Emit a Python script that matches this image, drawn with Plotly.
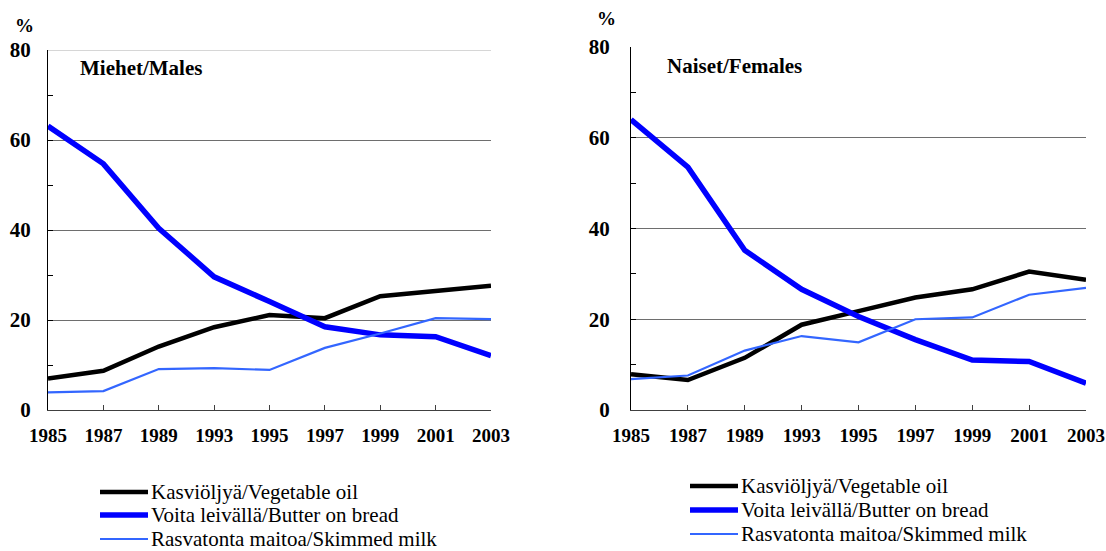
import plotly.graph_objects as go
from plotly.subplots import make_subplots

YEARS = ["1985", "1987", "1989", "1993", "1995", "1997", "1999", "2001", "2003"]

# Miehet / Males
MALE_OIL = [7.0, 8.7, 14.1, 18.4, 21.1, 20.4, 25.3, 26.5, 27.6]
MALE_BUTTER = [63.1, 54.7, 40.4, 29.6, 24.1, 18.5, 16.7, 16.3, 12.1]
MALE_MILK = [3.9, 4.2, 9.1, 9.3, 8.9, 13.8, 17.0, 20.4, 20.2]

# Naiset / Females
FEMALE_OIL = [7.9, 6.6, 11.5, 18.8, 21.8, 24.8, 26.6, 30.5, 28.7]
FEMALE_BUTTER = [64.0, 53.5, 35.2, 26.6, 20.6, 15.5, 11.0, 10.7, 5.9]
FEMALE_MILK = [6.8, 7.6, 13.1, 16.3, 14.9, 20.0, 20.4, 25.4, 26.9]

SERIES_NAMES = [
    "Kasviöljyä/Vegetable oil",
    "Voita leivällä/Butter on bread",
    "Rasvatonta maitoa/Skimmed milk",
]

COLORS = ["#000000", "#0000FF", "#3366FF"]
WIDTHS = [4.5, 5.5, 2.2]
FONT = "Liberation Serif, Times New Roman, serif"
W, H = 1106, 551


def px_x(x):
    return x / W


def px_y(y):
    return 1 - y / H


fig = make_subplots(rows=1, cols=2)

panels = [
    (1, [MALE_OIL, MALE_BUTTER, MALE_MILK]),
    (2, [FEMALE_OIL, FEMALE_BUTTER, FEMALE_MILK]),
]
for col, series in panels:
    for name, values, color, width in zip(SERIES_NAMES, series, COLORS, WIDTHS):
        fig.add_trace(
            go.Scatter(
                x=YEARS,
                y=values,
                mode="lines",
                name=name,
                line={"color": color, "width": width},
                showlegend=False,
            ),
            row=1,
            col=col,
        )

# panel geometry in pixels: (left, right, top, bottom)
geom = {1: (48, 491, 50, 410), 2: (631, 1086, 47, 410)}
for col, (left, right, top, bottom) in geom.items():
    fig.update_xaxes(
        type="category",
        range=[0, len(YEARS) - 1],
        domain=[px_x(left), px_x(right)],
        automargin=False,
        showgrid=False,
        showline=True,
        linecolor="#404040",
        linewidth=1.2,
        ticks="inside",
        ticklen=5,
        tickcolor="#404040",
        tickfont={"family": FONT, "size": 19, "color": "#000", "weight": "bold"},
        ticklabelstandoff=8,
        row=1,
        col=col,
    )
    fig.update_yaxes(
        range=[0, 80],
        domain=[px_y(bottom), px_y(top)],
        automargin=False,
        tickvals=[0, 20, 40, 60, 80],
        showgrid=True,
        gridcolor="#6e6e6e",
        gridwidth=1,
        zeroline=False,
        showline=True,
        linecolor="#000000",
        linewidth=1.2,
        ticks="inside",
        ticklen=5,
        tickcolor="#000",
        minor={"tickvals": [10, 30, 50, 70], "ticks": "inside", "ticklen": 5, "tickcolor": "#000"},
        tickfont={"family": FONT, "size": 21, "color": "#000", "weight": "bold"},
        ticklabelstandoff=12 if col == 1 else 16,
        row=1,
        col=col,
    )

shapes = [
    # top border line: light on the left panel, none on the right
    dict(type="line", xref="x domain", yref="y", x0=0, x1=1, y0=80, y1=80,
         line={"color": "#c8c8c8", "width": 1.5}, layer="above"),
    dict(type="line", xref="x2 domain", yref="y2", x0=0.003, x1=1, y0=80, y1=80,
         line={"color": "#ffffff", "width": 2}, layer="above"),
]
annotations = []


def label(text, x, y, size, bold=False):
    annotations.append(dict(
        text=f"<b>{text}</b>" if bold else text,
        x=px_x(x), y=px_y(y), xref="paper", yref="paper",
        xanchor="left", yanchor="middle", showarrow=False,
        font={"family": FONT, "size": size, "color": "#000"},
    ))


# panel titles and % labels
label("Miehet/Males", 78, 68, 21, bold=True)
label("Naiset/Females", 665, 66, 21, bold=True)
label("%", 13, 25, 19, bold=True)
label("%", 595, 19, 19, bold=True)

# legends drawn under each panel
legend_pos = [(100, [492, 515, 539]), (690, [486, 510, 534])]
for x0, rows in legend_pos:
    for name, color, width, y in zip(SERIES_NAMES, COLORS, WIDTHS, rows):
        shapes.append(dict(type="line", xref="paper", yref="paper",
                           x0=px_x(x0), x1=px_x(x0 + 48), y0=px_y(y), y1=px_y(y),
                           line={"color": color, "width": width}))
        label(name, x0 + 49, y, 21)

fig.update_layout(
    width=W,
    height=H,
    margin={"l": 0, "r": 0, "t": 0, "b": 0},
    paper_bgcolor="white",
    plot_bgcolor="white",
    font={"family": FONT, "size": 20, "color": "#000"},
    shapes=shapes,
    annotations=annotations,
    showlegend=False,
)

# drop the page's default body margin so the figure sits at the window's corner
fig.write_html(
    "out.html",
    config={"displayModeBar": False},
    post_script="document.body.style.margin='0';",
)
